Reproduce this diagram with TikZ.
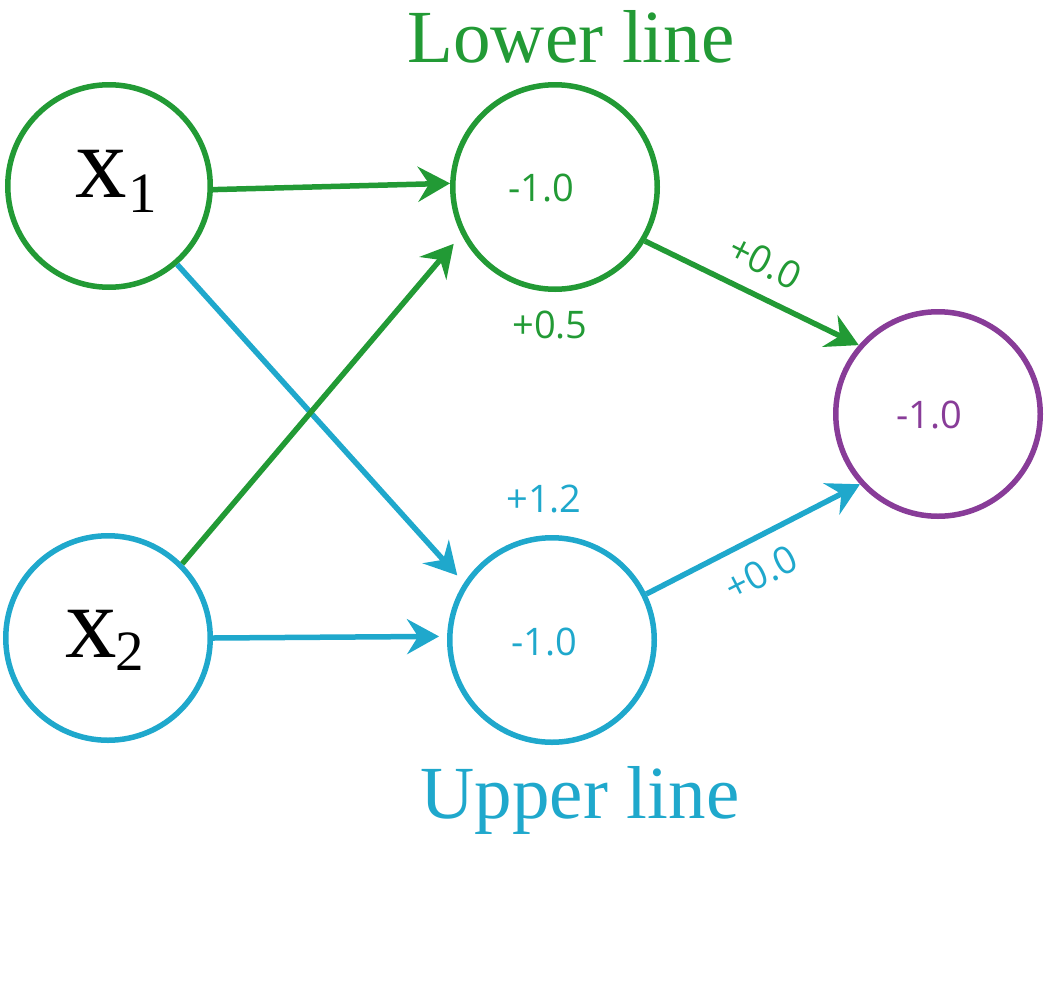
\documentclass[tikz,border=0pt]{standalone}
\usepackage{fontspec}
\setmainfont{Liberation Serif}
\newfontfamily\numfont{Open Sans}
\usetikzlibrary{arrows.meta}
\definecolor{cgreen}{HTML}{229A35}
\definecolor{cblue}{HTML}{1FA8CC}
\definecolor{cpurple}{HTML}{883C98}
\begin{document}
\begin{tikzpicture}[x=1pt,y=-1pt,
 neuron/.style={circle, draw, line width=5.5pt, minimum size=204.5pt, inner sep=0pt},
 conn/.style={line width=5.5pt, -{Stealth[length=32pt,width=35pt,inset=11pt]}},
 num/.style={font=\numfont\fontsize{38}{38}\selectfont, inner sep=0pt},
 ttl/.style={font=\fontsize{75}{75}\selectfont, inner sep=0pt, anchor=base},
 bigx/.style={font=\fontsize{103}{103}\selectfont, inner sep=0pt, anchor=base west},
 subx/.style={font=\fontsize{57}{57}\selectfont, inner sep=0pt, anchor=base west},
]
\useasboundingbox (0,0) rectangle (1046,1004);
% neurons
\node[neuron, cgreen, minimum size=202.5pt] (x1) at (109,186) {};
\node[neuron, cblue] (x2) at (108,638) {};
\node[neuron, cgreen] (L) at (555,187) {};
\node[neuron, cblue] (U) at (552,640) {};
\node[neuron, cpurple] (O) at (938,414) {};
% input labels
\node[bigx] (x1x) at (75,197) {x};
\node[subx] (x1s) at (128,212) {1};
\node[bigx] (x2x) at (65,657) {x};
\node[subx] (x2s) at (115,670) {2};
% titles
\node[ttl, cgreen] (lt) at (571,62) {Lower line};
\node[ttl, cblue] (ut) at (580,818) {Upper line};
% values
\node[num, cgreen, anchor=base] (lv) at (541,201) {-1.0};
\node[num, cgreen, anchor=base] (lb) at (550,338) {+0.5};
\node[num, cblue, anchor=base] (ub) at (544,512) {+1.2};
\node[num, cblue, anchor=base] (uv) at (544,655) {-1.0};
\node[num, cpurple, anchor=base] (ov) at (929,428) {-1.0};
% connectors
\draw[conn, cblue, shorten >=10pt] (x1.-49) -- (U.147);
\draw[conn, cblue, shorten >=8pt] (x2.0) -- (U.178);
\draw[conn, cblue] (U.26) -- (O.222);
\draw[conn, cgreen] (x1.-2) -- (L.178);
\draw[conn, cgreen, shorten >=12pt] (x2.45) -- (L.207);
\draw[conn, cgreen] (L.-31) -- (O.139);
% weight labels
\node[num, cgreen, rotate=-26.8] (wl) at (765,262) {+0.0};
\node[num, cblue, rotate=27] (wu) at (761,573) {+0.0};
\end{tikzpicture}
\end{document}
